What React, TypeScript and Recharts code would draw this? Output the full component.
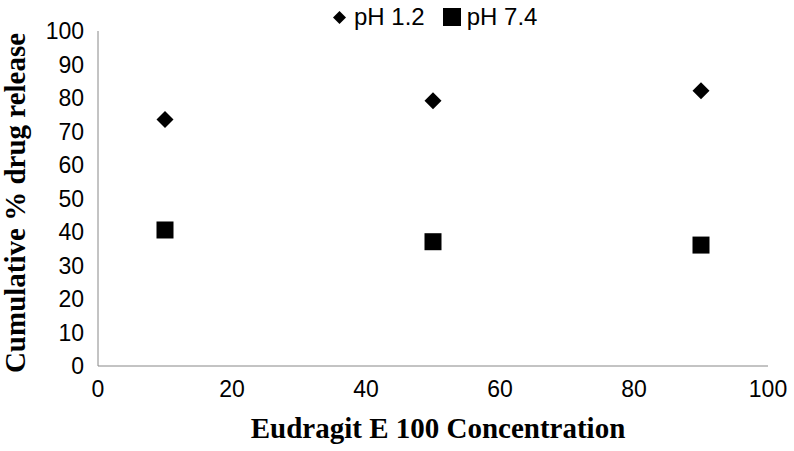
import React from 'react';
import { ScatterChart, Scatter, XAxis, YAxis, Label } from 'recharts';

const concentrations = [10, 50, 90];
const releasePh12 = [73.6, 79.2, 82.2];
const releasePh74 = [40.6, 37.1, 36.1];
const xTicks = [0, 20, 40, 60, 80, 100];
const yTicks = [0, 10, 20, 30, 40, 50, 60, 70, 80, 90, 100];

const ph12Data = concentrations.map((x, i) => ({ x, y: releasePh12[i] }));
const ph74Data = concentrations.map((x, i) => ({ x, y: releasePh74[i] }));

const sans = '"Liberation Sans", Arial, sans-serif';
const serif = '"Liberation Serif", "Times New Roman", serif';

const DiamondMark = (props: any) => {
  const { cx, cy } = props;
  const r = 8.5;
  return <path d={`M${cx},${cy - r}L${cx + r},${cy}L${cx},${cy + r}L${cx - r},${cy}Z`} fill="#000" />;
};

const SquareMark = (props: any) => {
  const { cx, cy } = props;
  const s = 17;
  return <rect x={cx - s / 2} y={cy - s / 2} width={s} height={s} fill="#000" />;
};

const XTick = (props: any) => {
  const { x, y, payload } = props;
  return (
    <text x={x} y={y + 23} textAnchor="middle" style={{ fontFamily: sans, fontSize: 23, fill: '#000' }}>
      {payload.value}
    </text>
  );
};

const YTick = (props: any) => {
  const { x, y, payload } = props;
  return (
    <text x={x - 6} y={y} textAnchor="end" dominantBaseline="central" style={{ fontFamily: sans, fontSize: 23, fill: '#000' }}>
      {payload.value}
    </text>
  );
};

const YTitle = () => (
  <text x={15} y={203} transform="rotate(-90, 15, 203)" textAnchor="middle" dominantBaseline="central"
    style={{ fontFamily: serif, fontWeight: 'bold', fontSize: 29, fill: '#000' }}>
    Cumulative % drug release
  </text>
);

const XTitle = () => (
  <text x={438} y={438} textAnchor="middle"
    style={{ fontFamily: serif, fontWeight: 'bold', fontSize: 29, fill: '#000' }}>
    Eudragit E 100 Concentration
  </text>
);

export default function App() {
  return (
    <div style={{ position: 'absolute', left: 0, top: 0, width: 794, height: 451, background: '#fff' }}>
      <div style={{ position: 'absolute', top: 0, left: 333, height: 34, display: 'flex', alignItems: 'center', fontFamily: sans, fontSize: 24, color: '#000', zIndex: 1 }}>
        <svg width={13} height={13} style={{ marginRight: 8 }}><path d="M6.5,0L13,6.5L6.5,13L0,6.5Z" fill="#000" /></svg>
        <span>pH 1.2</span>
        <svg width={18} height={18} style={{ marginLeft: 18, marginRight: 6, flexShrink: 0 }}><rect width={18} height={18} fill="#000" /></svg>
        <span>pH 7.4</span>
      </div>
      <ScatterChart width={794} height={451} margin={{ top: 31, right: 26, bottom: 0, left: 0 }}>
        <XAxis
          type="number"
          dataKey="x"
          domain={[0, 100]}
          ticks={xTicks}
          height={85}
          tickLine={false}
          stroke="#888"
          tick={<XTick />}
        >
          <Label content={<XTitle />} />
        </XAxis>
        <YAxis
          type="number"
          dataKey="y"
          domain={[0, 100]}
          ticks={yTicks}
          width={98}
          tickLine={false}
          stroke="#888"
          tick={<YTick />}
        >
          <Label content={<YTitle />} />
        </YAxis>
        <Scatter name="pH 1.2" data={ph12Data} shape={<DiamondMark />} isAnimationActive={false} />
        <Scatter name="pH 7.4" data={ph74Data} shape={<SquareMark />} isAnimationActive={false} />
      </ScatterChart>
    </div>
  );
}
